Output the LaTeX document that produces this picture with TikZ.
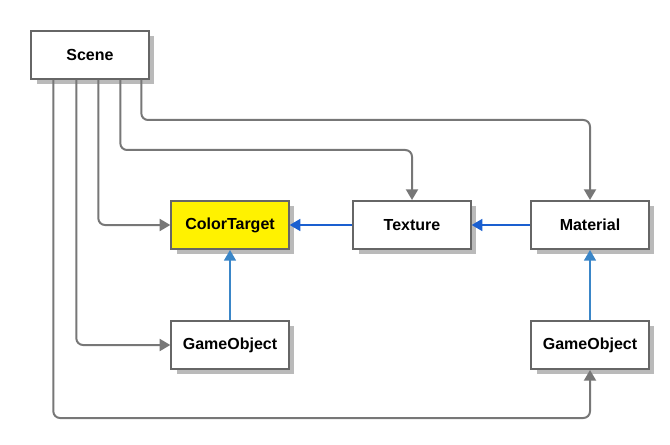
\documentclass[tikz,border=0pt]{standalone}
\usepackage{fontspec}
\setmainfont{Liberation Sans}
\usetikzlibrary{arrows.meta,calc,positioning,shadows}
\definecolor{boxline}{HTML}{666666}
\definecolor{linkgray}{HTML}{777777}
\definecolor{linkblue}{HTML}{1A5FD0}
\definecolor{uplinkblue}{HTML}{3A86C8}
\begin{document}
\begin{tikzpicture}[x=0.75pt, y=-0.75pt,
  classbox/.style={draw=boxline, line width=1.5pt, fill=white, minimum width=88pt, minimum height=36pt,
    font=\fontsize{12}{14}\selectfont\bfseries,
    drop shadow={shadow xshift=4pt, shadow yshift=-4pt, fill=black!27, opacity=1}},
  scenelink/.style={draw=linkgray, line width=1.5pt, rounded corners=5pt, -{Triangle[length=8pt,width=9pt]}},
  uselink/.style={draw=linkblue, line width=1.2pt, -{Triangle[length=8pt,width=9pt]}},
  uplink/.style={draw=uplinkblue, line width=1.2pt, -{Triangle[length=8pt,width=9pt]}}]
  \useasboundingbox (0,0) rectangle (670,445);
  % classes
  \node[classbox] (scene) at (90,55) {Scene};
  \node[classbox, fill=yellow] (colortarget) at (230,225) {ColorTarget};
  \node[classbox] (texture) at (412,225) {Texture};
  \node[classbox] (material) at (590,225) {Material};
  \node[classbox] (gameobjL) at (230,345) {GameObject};
  \node[classbox] (gameobjR) at (590,345) {GameObject};
  % scene owns everything
  \draw[scenelink] ($(scene.south west)+(111,0)$) |- ($(material.north)+(0,-80)$) -- (material.north);
  \draw[scenelink] ($(scene.south west)+(90,0)$) |- ($(texture.north)+(0,-50)$) -- (texture.north);
  \draw[scenelink] ($(scene.south west)+(68,0)$) |- (colortarget.west);
  \draw[scenelink] ($(scene.south west)+(46,0)$) |- (gameobjL.west);
  \draw[scenelink] ($(scene.south west)+(23,0)$) |- ($(gameobjR.south)+(0,48)$) -- (gameobjR.south);
  % references
  \draw[uselink] (texture) -- (colortarget);
  \draw[uselink] (material) -- (texture);
  \draw[uplink] (gameobjL) -- (colortarget);
  \draw[uplink] (gameobjR) -- (material);
\end{tikzpicture}
\end{document}
